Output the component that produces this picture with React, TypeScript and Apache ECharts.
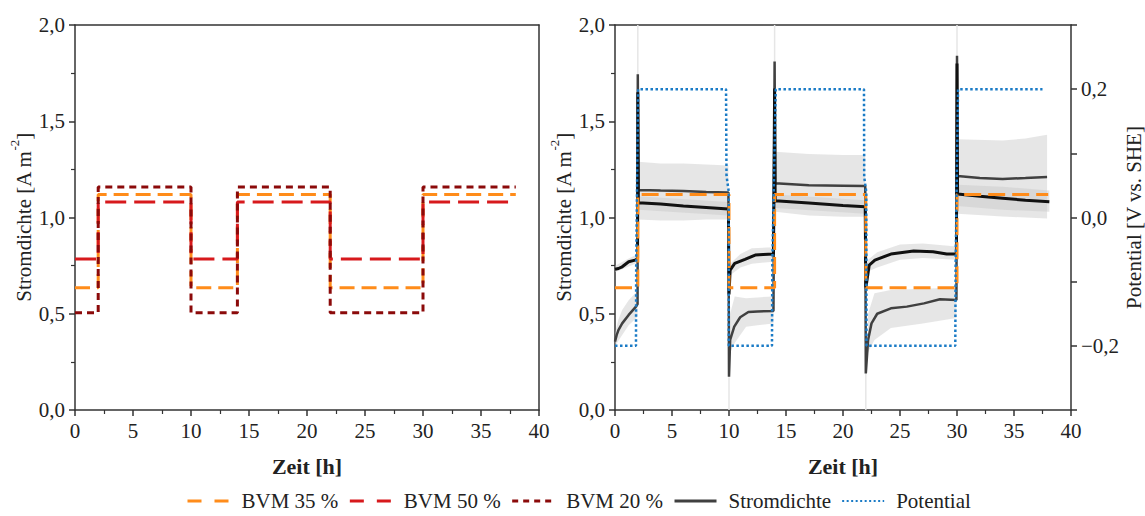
import React, { useEffect, useRef } from "react";
import * as echarts from "echarts";

// ---------- data ----------
const xTicks = { min: 0, max: 40, interval: 5 };

const bvm35: number[][] = [[0, 0.635], [2, 0.635], [2, 1.12], [10, 1.12], [10, 0.635], [14, 0.635], [14, 1.12], [22, 1.12], [22, 0.635], [30, 0.635], [30, 1.12], [38, 1.12]];
const bvm50: number[][] = [[0, 0.785], [2, 0.785], [2, 1.08], [10, 1.08], [10, 0.785], [14, 0.785], [14, 1.08], [22, 1.08], [22, 0.785], [30, 0.785], [30, 1.08], [38, 1.08]];
const bvm20: number[][] = [[0, 0.505], [2, 0.505], [2, 1.158], [10, 1.158], [10, 0.505], [14, 0.505], [14, 1.158], [22, 1.158], [22, 0.505], [30, 0.505], [30, 1.158], [38, 1.158]];

const potential: number[][] = [[0, -0.2], [1.84, -0.2], [1.86, -0.07], [2.03, 0.2], [9.74, 0.2], [9.78, 0.065], [9.98, 0.04], [9.98, -0.2], [13.77, -0.2], [13.8, -0.07], [14.1, 0.2], [21.84, 0.2], [21.86, 0.063], [22.04, 0.04], [22.06, -0.2], [29.85, -0.2], [29.88, -0.07], [30.09, 0.2], [37.5, 0.2]];

// black current density curve
const currentA: number[][] = [[0, 0.731], [0.3, 0.735], [0.63, 0.744], [1.2, 0.77], [1.84, 0.78], [1.98, 0.79], [2.0, 1.65], [2.05, 1.077], [4, 1.07], [6, 1.06], [8, 1.052], [9.95, 1.044], [10.0, 0.6], [10.1, 0.727], [10.5, 0.762], [11.4, 0.783], [12.3, 0.805], [13.0, 0.808], [13.9, 0.81], [14.0, 1.67], [14.05, 1.087], [17, 1.075], [20, 1.062], [21.95, 1.056], [22.0, 0.632], [22.3, 0.753], [22.8, 0.779], [24.2, 0.81], [26.2, 0.826], [27.9, 0.822], [29.1, 0.81], [29.95, 0.81], [30.0, 1.8], [30.05, 1.122], [32, 1.11], [34, 1.1], [36, 1.09], [38.1, 1.082]];

// dark grey current density curve
const currentB: number[][] = [[0, 0.355], [0.15, 0.39], [0.3, 0.415], [0.63, 0.45], [1.2, 0.494], [1.84, 0.537], [1.98, 0.55], [2.0, 1.744], [2.05, 1.143], [4, 1.14], [6, 1.138], [8, 1.133], [9.95, 1.13], [10.0, 0.173], [10.1, 0.364], [10.46, 0.433], [10.98, 0.482], [11.7, 0.509], [12.5, 0.512], [13.9, 0.514], [14.0, 1.81], [14.05, 1.178], [17, 1.168], [20, 1.165], [21.95, 1.163], [22.0, 0.19], [22.2, 0.364], [22.5, 0.45], [23.0, 0.5], [24.2, 0.528], [25.6, 0.537], [27.1, 0.554], [28.5, 0.575], [29.95, 0.571], [30.0, 1.84], [30.05, 1.215], [32, 1.205], [34, 1.2], [36, 1.205], [37.9, 1.21]];

// [t, lower, upper] bands
const bandsA: number[][][] = [
  [[0, 0.715, 0.75], [1, 0.74, 0.78], [1.98, 0.765, 0.81]],
  [[2.03, 1.04, 1.11], [9.95, 1.01, 1.08]],
  [[10.1, 0.7, 0.76], [11, 0.74, 0.81], [12, 0.76, 0.84], [13.9, 0.77, 0.845]],
  [[14.05, 1.05, 1.12], [21.95, 1.02, 1.09]],
  [[22.2, 0.72, 0.78], [23, 0.74, 0.82], [25, 0.78, 0.86], [27, 0.79, 0.865], [29.95, 0.78, 0.85]],
  [[30.05, 1.06, 1.17], [34, 1.04, 1.16], [38.1, 1.03, 1.14]],
];
const bandsB: number[][][] = [
  [[0, 0.33, 0.4], [0.3, 0.36, 0.47], [0.63, 0.39, 0.52], [1.2, 0.44, 0.57], [1.98, 0.485, 0.62]],
  [[2.03, 0.99, 1.29], [4, 0.985, 1.28], [6, 0.985, 1.28], [8, 0.99, 1.275], [9.95, 0.99, 1.27]],
  [[10.1, 0.3, 0.5], [10.5, 0.348, 0.589], [11.5, 0.433, 0.58], [12.5, 0.44, 0.585], [13.9, 0.45, 0.59]],
  [[14.05, 1.03, 1.342], [17, 1.01, 1.33], [20, 1.004, 1.325], [21.95, 1.004, 1.325]],
  [[22.2, 0.3, 0.5], [22.76, 0.364, 0.606], [24.2, 0.426, 0.623], [27, 0.45, 0.63], [29.95, 0.478, 0.637]],
  [[30.05, 1.02, 1.406], [34, 1.005, 1.4], [36, 1.0, 1.41], [37.9, 0.995, 1.43]],
];
// faint extreme spikes [t, from, to]
const spikeLines: number[][] = [[2, 1.74, 2.0], [10, 0.17, 0.0], [14, 1.8, 2.0], [22, 0.19, 0.0], [30, 1.83, 2.0]];

const legendNames = ["BVM 35 %", "BVM 50 %", "BVM 20 %", "Stromdichte", "Potential"];

// ---------- styles ----------
const FONT = "Liberation Serif";
const C_OR = "#FF8C1A";
const C_RED = "#D7191C";
const C_DRED = "#8B0A0A";
const C_GRAY = "#404040";
const C_BLK = "#111111";
const C_BLUE = "#1A7BC6";
const AX = "#333333";
const TXT = "#222222";

const fmt = (v: number) => v.toFixed(1).replace(".", ",").replace("-", "\u2212");

export default function App() {
  const ref = useRef<HTMLDivElement>(null);
  useEffect(() => {
    if (!ref.current) return;
    const chart = echarts.init(ref.current, undefined, { renderer: "svg" });

    const axisLine = { show: true, onZero: false, lineStyle: { color: AX, width: 1.5 } };
    const tRich = { t: { fontFamily: FONT, fontSize: 21, color: TXT } };
    const label = { fontFamily: FONT, fontSize: 21, color: TXT, rich: tRich };
    const yName = "{n|Stromdichte [A m}{s|-2}{n|]}";
    const yRich = {
      n: { fontFamily: FONT, fontSize: 21, color: TXT, lineHeight: 26, verticalAlign: "bottom" },
      s: { fontFamily: FONT, fontSize: 13, color: TXT, lineHeight: 14, verticalAlign: "top" },
    };

    const bottomX = (grid: number) => ({
      type: "value", gridIndex: grid, position: "bottom", min: xTicks.min, max: xTicks.max, interval: xTicks.interval,
      axisLine, axisTick: { show: true, length: 6, lineStyle: { color: AX, width: 1.5 } },
      minorTick: { show: true, splitNumber: 2, length: 4, lineStyle: { color: AX, width: 1.2 } },
      splitLine: { show: false }, minorSplitLine: { show: false },
      axisLabel: { ...label, margin: 10, formatter: (v: number) => "{t|" + String(v) + "}" },
      name: "{b|Zeit [h]}", nameLocation: "middle", nameGap: 45,
      nameTextStyle: {
        fontFamily: FONT, fontSize: 22, color: TXT, fontWeight: "bold",
        rich: { b: { fontFamily: FONT, fontSize: 22, color: TXT, fontWeight: "bold" } },
      },
    });
    const topX = (grid: number) => ({
      type: "value", gridIndex: grid, position: "top", min: 0, max: 40,
      axisLine, axisTick: { show: false }, axisLabel: { show: false }, splitLine: { show: false },
    });
    const leftY = (grid: number) => ({
      type: "value", gridIndex: grid, position: "left", min: 0, max: 2, interval: 0.5,
      axisLine, axisTick: { show: true, length: 6, lineStyle: { color: AX, width: 1.5 } },
      minorTick: { show: true, splitNumber: 2, length: 4, lineStyle: { color: AX, width: 1.2 } },
      splitLine: { show: false }, minorSplitLine: { show: false },
      axisLabel: { ...label, margin: 10, formatter: (v: number) => "{t|" + fmt(v) + "}" },
      name: yName, nameLocation: "middle", nameGap: 41, nameRotate: 90,
      nameTextStyle: { fontFamily: FONT, fontSize: 21, color: TXT, rich: yRich },
    });

    const bandRender = (bands: number[][][], fill: string) => (params: any, api: any) => {
      const b = bands[params.dataIndex];
      const up = b.map((p) => api.coord([p[0], p[2]]));
      const lo = b.slice().reverse().map((p) => api.coord([p[0], p[1]]));
      return { type: "polygon", silent: true, shape: { points: up.concat(lo) }, style: { fill } };
    };

    const hidden = { opacity: 0, color: "transparent", borderWidth: 0 };

    const option: any = {
      animation: false,
      backgroundColor: "#ffffff",
      textStyle: { fontFamily: FONT },
      grid: [
        { left: 75, right: 1145 - 539, top: 25, bottom: 516 - 410 },
        { left: 615, right: 1145 - 1081, top: 25, bottom: 516 - 410 },
      ],
      xAxis: [bottomX(0), topX(0), bottomX(1), topX(1)],
      yAxis: [
        leftY(0),
        { type: "value", gridIndex: 0, position: "right", min: 0, max: 2, axisLine, axisTick: { show: false }, axisLabel: { show: false }, splitLine: { show: false } },
        leftY(1),
        {
          type: "value", gridIndex: 1, position: "right", min: -0.3, max: 0.3, interval: 0.1,
          axisLine, axisTick: { show: true, length: 6, lineStyle: { color: AX, width: 1.5 } },
          splitLine: { show: false },
          axisLabel: {
            ...label, margin: 10,
            formatter: (v: number) => {
              const r = Math.round(v * 10);
              return r === -2 || r === 0 || r === 2 ? "{t|" + fmt(r / 10) + "}" : "";
            },
          },
          name: "{n|Potential [V vs. SHE]}", nameLocation: "middle", nameGap: 40, nameRotate: 90,
          nameTextStyle: { fontFamily: FONT, fontSize: 21, color: TXT, rich: { n: { fontFamily: FONT, fontSize: 21, color: TXT } } },
        },
      ],
      legend: {
        left: 186, top: 490, padding: 0, itemWidth: 42, itemHeight: 20, itemGap: 10,
        itemStyle: hidden,
        textStyle: { fontFamily: FONT, fontSize: 21, lineHeight: 22, color: TXT, padding: [0, 0, 0, 7] },
        data: [
          { name: legendNames[0], itemStyle: hidden, lineStyle: { color: C_OR, width: 3, type: [14, 13] } },
          { name: legendNames[1], itemStyle: hidden, lineStyle: { color: C_RED, width: 3, type: [14, 13] } },
          { name: legendNames[2], itemStyle: hidden, lineStyle: { color: C_DRED, width: 3, type: [6, 5] } },
          { name: legendNames[3], itemStyle: hidden, lineStyle: { color: C_GRAY, width: 3, type: "solid" } },
          { name: legendNames[4], itemStyle: hidden, lineStyle: { color: C_BLUE, width: 2, type: [2, 2.5] } },
        ],
      },
      series: [
        // left plot
        { name: "BVM 35 %", type: "line", xAxisIndex: 0, yAxisIndex: 0, data: bvm35, symbol: "none", lineStyle: { color: C_OR, width: 3, type: [15, 7] }, itemStyle: { color: C_OR }, z: 3 },
        { name: "BVM 50 %", type: "line", xAxisIndex: 0, yAxisIndex: 0, data: bvm50, symbol: "none", lineStyle: { color: C_RED, width: 3, type: [21, 8] }, itemStyle: { color: C_RED }, z: 3 },
        { name: "BVM 20 %", type: "line", xAxisIndex: 0, yAxisIndex: 0, data: bvm20, symbol: "none", lineStyle: { color: C_DRED, width: 3, type: [7, 5] }, itemStyle: { color: C_DRED }, z: 4 },
        // right plot bands
        {
          name: "BandB", type: "custom", xAxisIndex: 2, yAxisIndex: 2, silent: true, z: 1,
          data: bandsB.map((b) => [b[0][0], b[0][1]]), encode: { x: 0, y: 1 },
          renderItem: bandRender(bandsB, "rgba(200,200,200,0.45)"),
        },
        {
          name: "BandA", type: "custom", xAxisIndex: 2, yAxisIndex: 2, silent: true, z: 1,
          data: bandsA.map((b) => [b[0][0], b[0][1]]), encode: { x: 0, y: 1 },
          renderItem: bandRender(bandsA, "rgba(200,200,200,0.45)"),
        },
        {
          name: "Spikes", type: "custom", xAxisIndex: 2, yAxisIndex: 2, silent: true, z: 1,
          data: spikeLines, encode: { x: 0, y: [1, 2] },
          renderItem: (params: any, api: any) => {
            const s = spikeLines[params.dataIndex];
            const a = api.coord([s[0], s[1]]);
            const b = api.coord([s[0], s[2]]);
            return { type: "line", silent: true, shape: { x1: a[0], y1: a[1], x2: b[0], y2: b[1] }, style: { stroke: "#e6e6e6", lineWidth: 1.5 } };
          },
        },
        { name: "Stromdichte", type: "line", xAxisIndex: 2, yAxisIndex: 2, data: currentB, symbol: "none", lineStyle: { color: C_GRAY, width: 2.5 }, itemStyle: { color: C_GRAY }, z: 2 },
        { name: "Stromdichte Mittel", type: "line", xAxisIndex: 2, yAxisIndex: 2, data: currentA, symbol: "none", lineStyle: { color: C_BLK, width: 3 }, itemStyle: { color: C_BLK }, z: 2 },
        { name: "BVM 35 %", type: "line", xAxisIndex: 2, yAxisIndex: 2, data: bvm35, symbol: "none", lineStyle: { color: C_OR, width: 3, type: [17, 7] }, itemStyle: { color: C_OR }, z: 3 },
        { name: "Potential", type: "line", xAxisIndex: 2, yAxisIndex: 3, data: potential, symbol: "none", lineStyle: { color: C_BLUE, width: 2.5, type: [2.5, 2.5] }, itemStyle: { color: C_BLUE }, z: 4 },
      ],
    };
    chart.setOption(option);
    return () => chart.dispose();
  }, []);

  return (
    <div
      ref={ref}
      style={{ position: "absolute", left: 0, top: 0, width: 1145, height: 516, background: "#fff" }}
    />
  );
}
